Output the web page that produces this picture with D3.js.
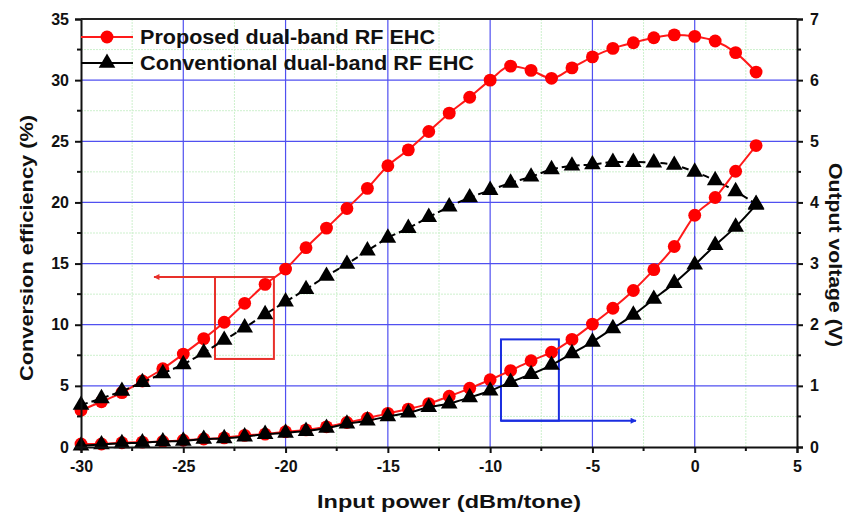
<!DOCTYPE html>
<html>
<head>
<meta charset="utf-8">
<script src="https://cdn.jsdelivr.net/npm/d3@7"></script>
<style>
  body { margin: 0; background: #fff; }
  svg text { font-family: "Liberation Sans", Arial, sans-serif; font-weight: bold; }
</style>
</head>
<body>
<svg id="chart" width="849" height="514"></svg>
<script>
'use strict';

// input power, dBm/tone
var power = d3.range(-30, 4, 1);

// conversion efficiency (%), left axis
var effProposed = [3.0, 3.7, 4.45, 5.4, 6.4, 7.6, 8.86, 10.2, 11.75, 13.3, 14.55,
    16.3, 17.9, 19.5, 21.15, 23.0, 24.3, 25.8, 27.3, 28.6, 30.0,
    31.15, 30.8, 30.15, 31.0, 31.9, 32.6, 33.06, 33.47, 33.7, 33.58, 33.2, 32.25, 30.66];
var effConventional = [3.43, 3.98, 4.58, 5.29, 6.02, 6.76, 7.71, 8.75, 9.76, 10.85, 11.88,
    12.9, 13.98, 14.96, 16.05, 17.1, 17.9, 18.8, 19.65, 20.4, 21.0,
    21.6, 22.1, 22.7, 23.0, 23.1, 23.3, 23.3, 23.25, 23.06, 22.5, 21.8, 20.9, 19.87];

// output voltage (V), right axis
var voltProposed = [0.05, 0.05, 0.07, 0.08, 0.09, 0.11, 0.13, 0.15, 0.19, 0.21, 0.25,
    0.28, 0.33, 0.40, 0.47, 0.55, 0.62, 0.71, 0.83, 0.96, 1.10,
    1.25, 1.41, 1.55, 1.76, 2.01, 2.27, 2.56, 2.90, 3.28, 3.79, 4.08, 4.51, 4.93];
var voltConventional = [0.02, 0.04, 0.06, 0.07, 0.09, 0.10, 0.13, 0.14, 0.17, 0.21, 0.23,
    0.26, 0.31, 0.38, 0.43, 0.50, 0.56, 0.65, 0.71, 0.81, 0.92,
    1.06, 1.19, 1.34, 1.53, 1.72, 1.94, 2.16, 2.42, 2.68, 2.98, 3.30, 3.60, 3.96];

var xTicks = [-30, -25, -20, -15, -10, -5, 0, 5];
var yLeftTicks = [0, 5, 10, 15, 20, 25, 30, 35];
var yRightTicks = [0, 1, 2, 3, 4, 5, 6, 7];

var legendLabels = ['Proposed dual-band RF EHC', 'Conventional dual-band RF EHC'];

// annotation boxes (data units)
var leftBox = { x0: -23.45, x1: -20.57, y0: 7.2, y1: 13.9, arrowTo: -26.43 };
var rightBox = { x0: -9.47, x1: -6.64, y0: 0.43, y1: 1.76, arrowTo: -2.87 };

var margin = { left: 81, right: 52, top: 19, bottom: 67 };
var W = 849, H = 514;

var svg = d3.select('#chart');

var x = d3.scaleLinear().domain([-30, 5]).range([margin.left, W - margin.right]);
var yL = d3.scaleLinear().domain([0, 35]).range([H - margin.bottom, margin.top]);
var yR = d3.scaleLinear().domain([0, 7]).range([H - margin.bottom, margin.top]);

var x0 = margin.left, x1 = W - margin.right, y0 = H - margin.bottom, y1 = margin.top;

//grid - minor green dotted, major blue
var grid = svg.append('g');
var minorX = d3.range(-27.5, 5, 5);
var minorY = d3.range(2.5, 35, 5);
grid.selectAll('.mx').data(minorX).enter().append('line')
    .attr('x1', function (d) { return x(d); }).attr('x2', function (d) { return x(d); })
    .attr('y1', y0).attr('y2', y1)
    .attr('stroke', '#cdf0cd').attr('stroke-width', 1).attr('stroke-dasharray', '2,1');
grid.selectAll('.my').data(minorY).enter().append('line')
    .attr('y1', function (d) { return yL(d); }).attr('y2', function (d) { return yL(d); })
    .attr('x1', x0).attr('x2', x1)
    .attr('stroke', '#cdf0cd').attr('stroke-width', 1).attr('stroke-dasharray', '2,1');
grid.selectAll('.gx').data(xTicks.slice(1, -1)).enter().append('line')
    .attr('x1', function (d) { return x(d); }).attr('x2', function (d) { return x(d); })
    .attr('y1', y0).attr('y2', y1)
    .attr('stroke', '#5050f0').attr('stroke-width', 1.2);
grid.selectAll('.gy').data(yLeftTicks.slice(1, -1)).enter().append('line')
    .attr('y1', function (d) { return yL(d); }).attr('y2', function (d) { return yL(d); })
    .attr('x1', x0).attr('x2', x1)
    .attr('stroke', '#5050f0').attr('stroke-width', 1.2);

//annotations
var ann = svg.append('g');
svg.append('defs').selectAll('marker')
    .data([['arrRed', '#e8302a'], ['arrBlue', '#1a2ee0']])
    .enter().append('marker')
    .attr('id', function (d) { return d[0]; })
    .attr('viewBox', '0 0 10 10').attr('refX', 9).attr('refY', 5)
    .attr('markerWidth', 12).attr('markerHeight', 6).attr('markerUnits', 'userSpaceOnUse')
    .attr('orient', 'auto')
    .append('path').attr('d', 'M0,0 L10,5 L0,10 z').attr('fill', function (d) { return d[1]; });

ann.append('rect')
    .attr('x', x(leftBox.x0)).attr('y', yL(leftBox.y1))
    .attr('width', x(leftBox.x1) - x(leftBox.x0)).attr('height', yL(leftBox.y0) - yL(leftBox.y1))
    .attr('fill', 'none').attr('stroke', '#e8302a').attr('stroke-width', 2);
ann.append('line')
    .attr('x1', x(leftBox.x1)).attr('x2', x(leftBox.arrowTo))
    .attr('y1', yL(leftBox.y1)).attr('y2', yL(leftBox.y1))
    .attr('stroke', '#e8302a').attr('stroke-width', 2).attr('marker-end', 'url(#arrRed)');
ann.append('rect')
    .attr('x', x(rightBox.x0)).attr('y', yR(rightBox.y1))
    .attr('width', x(rightBox.x1) - x(rightBox.x0)).attr('height', yR(rightBox.y0) - yR(rightBox.y1))
    .attr('fill', 'none').attr('stroke', '#1a2ee0').attr('stroke-width', 2);
ann.append('line')
    .attr('x1', x(rightBox.x0)).attr('x2', x(rightBox.arrowTo))
    .attr('y1', yR(rightBox.y0)).attr('y2', yR(rightBox.y0))
    .attr('stroke', '#1a2ee0').attr('stroke-width', 2).attr('marker-end', 'url(#arrBlue)');

//series
var series = [
    { vals: effProposed, y: yL, color: '#ff1a1a', dash: null, mark: 'circle' },
    { vals: effConventional, y: yL, color: '#000', dash: '7,4', mark: 'tri' },
    { vals: voltProposed, y: yR, color: '#ff1a1a', dash: null, mark: 'circle' },
    { vals: voltConventional, y: yR, color: '#000', dash: null, mark: 'tri' }
];

var circleSym = d3.symbol().type(d3.symbolCircle).size(130);
var triSym = d3.symbol().type(d3.symbolTriangle).size(120);

series.forEach(function (s) {
    var pts = power.map(function (p, i) { return [p, s.vals[i]]; });
    var line = d3.line()
        .x(function (d) { return x(d[0]); })
        .y(function (d) { return s.y(d[1]); })
        .curve(d3.curveMonotoneX);
    svg.append('path').datum(pts)
        .attr('d', line)
        .attr('fill', 'none')
        .attr('stroke', s.color)
        .attr('stroke-width', 2)
        .attr('stroke-dasharray', s.dash);
    svg.append('g').selectAll('path').data(pts).enter().append('path')
        .attr('transform', function (d) { return 'translate(' + x(d[0]) + ',' + s.y(d[1]) + ')'; })
        .attr('d', s.mark === 'circle' ? circleSym : triSym)
        .attr('fill', s.color === '#000' ? '#000' : '#ff0000');
});

//axes
var xAxis = d3.axisBottom(x).tickValues(xTicks).tickSize(6).tickPadding(5).tickFormat(d3.format('d'));
var yLAxis = d3.axisLeft(yL).tickValues(yLeftTicks).tickSize(6).tickPadding(6);
var yRAxis = d3.axisRight(yR).tickValues(yRightTicks).tickSize(6).tickPadding(7);

function styleAxis(g) {
    g.select('.domain').attr('stroke', '#111').attr('stroke-width', 2);
    g.selectAll('.tick line').attr('stroke', '#111').attr('stroke-width', 2);
    g.selectAll('.tick text').attr('font-size', 16).attr('fill', '#111')
        .text(function (d) { return String(d).replace('−', '-'); });
}

// minor ticks
function minorTicks(g, vals, pos, orient) {
    g.selectAll('line.minor').data(vals).enter().append('line')
        .attr('stroke', '#111').attr('stroke-width', 2)
        .each(function (d) {
            var el = d3.select(this);
            if (orient === 'bottom') {
                el.attr('x1', x(d)).attr('x2', x(d)).attr('y1', pos).attr('y2', pos + 4);
            } else if (orient === 'left') {
                el.attr('y1', yL(d)).attr('y2', yL(d)).attr('x1', pos).attr('x2', pos - 4);
            } else {
                el.attr('y1', yL(d)).attr('y2', yL(d)).attr('x1', pos).attr('x2', pos + 4);
            }
        });
}

var gx = svg.append('g').attr('transform', 'translate(0,' + y0 + ')').call(xAxis).call(styleAxis);
gx.selectAll('.tick text').attr('dy', '0.85em');
var gl = svg.append('g').attr('transform', 'translate(' + x0 + ',0)').call(yLAxis).call(styleAxis);
var gr = svg.append('g').attr('transform', 'translate(' + x1 + ',0)').call(yRAxis).call(styleAxis);
var mg = svg.append('g');
minorTicks(mg.append('g'), minorX, y0, 'bottom');
minorTicks(mg.append('g'), minorY, x0, 'left');
minorTicks(mg.append('g'), minorY, x1, 'right');

svg.append('line').attr('x1', x0).attr('x2', x1).attr('y1', y1).attr('y2', y1)
    .attr('stroke', '#222').attr('stroke-width', 2);

//axis titles
svg.append('text')
    .attr('x', 449).attr('y', 508)
    .attr('text-anchor', 'middle').attr('font-size', 19).attr('fill', '#111')
    .attr('textLength', 264).attr('lengthAdjust', 'spacingAndGlyphs')
    .text('Input power (dBm/tone)');
svg.append('text')
    .attr('transform', 'translate(33,248) rotate(-90)')
    .attr('text-anchor', 'middle').attr('font-size', 19).attr('fill', '#111')
    .attr('textLength', 266).attr('lengthAdjust', 'spacingAndGlyphs')
    .text('Conversion efficiency (%)');
svg.append('text')
    .attr('transform', 'translate(829,255) rotate(90)')
    .attr('text-anchor', 'middle').attr('font-size', 18).attr('fill', '#111')
    .attr('textLength', 184).attr('lengthAdjust', 'spacingAndGlyphs')
    .text('Output voltage (V)');

//legend
var legend = svg.append('g');
var legendRows = [
    { label: legendLabels[0], color: '#ff1a1a', mark: circleSym, fill: '#ff0000', len: 295 },
    { label: legendLabels[1], color: '#000', mark: triSym, fill: '#000', len: 334 }
];
legendRows.forEach(function (r, i) {
    var ly = 37 + i * 26;
    legend.append('line').attr('x1', x0).attr('x2', 133).attr('y1', ly).attr('y2', ly)
        .attr('stroke', r.color).attr('stroke-width', 2);
    legend.append('path').attr('transform', 'translate(107,' + ly + ')')
        .attr('d', r.mark).attr('fill', r.fill);
    legend.append('text').attr('x', 140).attr('y', ly + 7)
        .attr('font-size', 20).attr('fill', '#111')
        .attr('textLength', r.len).attr('lengthAdjust', 'spacingAndGlyphs')
        .text(r.label);
});
</script>
</body>
</html>
